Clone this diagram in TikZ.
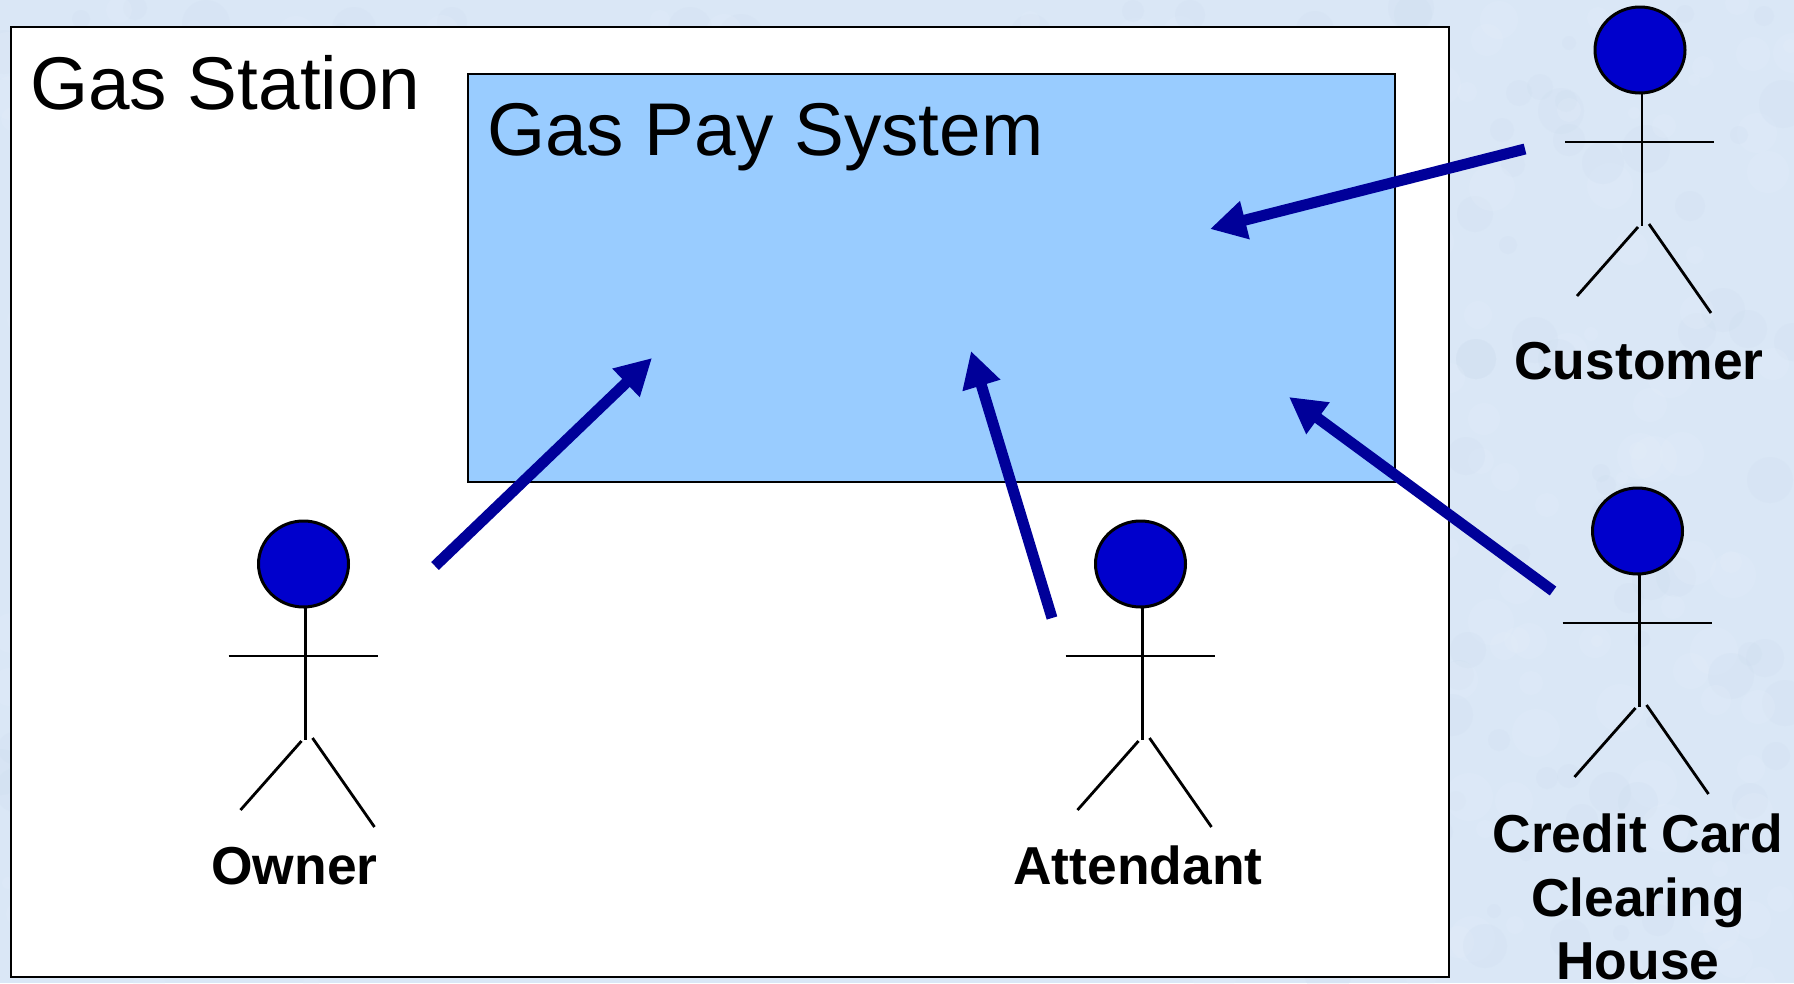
\documentclass[tikz,border=0pt]{standalone}
\usepackage{fontspec}
\setmainfont{Liberation Sans}
\usepackage{xcolor}
\usetikzlibrary{
  arrows.meta,
  shapes.geometric,
  positioning
}
\definecolor{gsBack}{HTML}{DAE7F6}
\definecolor{gsMottleA}{HTML}{E6F0FB}
\definecolor{gsMottleB}{HTML}{CCDCEE}
\definecolor{gsSystem}{HTML}{99CCFF}
\definecolor{gsHead}{HTML}{0000CC}
\definecolor{gsArrow}{HTML}{000099}
\tikzset{
  boxarea/.style={draw=black, line width=2.8pt},
  boxtitle/.style={anchor=base west, inner sep=0pt, font=\fontsize{74.7}{80}\selectfont},
  actorhead/.style={shape=ellipse, draw=black, line width=3pt, fill=gsHead, inner sep=0pt, minimum width=90pt, minimum height=86pt},
  actorline/.style={draw=black, line width=2.8pt},
  actorlabel/.style={inner sep=0pt, align=center, font=\fontsize{53.4}{63.5}\bfseries\selectfont},
  useflow/.style={draw=gsArrow, line width=11pt, -{Triangle[length=36pt, width=37pt]}}
}

\begin{document}
\begin{tikzpicture}[x=1pt, y=-1pt]
  \useasboundingbox (0,0) rectangle (1794,983);
  \fill[gsBack] (0,0) rectangle (1794,983);
  \pgfmathsetseed{7}
  \foreach \i in {1,...,700}{
    \pgfmathsetmacro{\bx}{random(0,1794)}
    \pgfmathsetmacro{\by}{random(0,983)}
    \pgfmathsetmacro{\br}{random(6,24)}
    \pgfmathsetmacro{\bc}{ifthenelse(random(0,1)==0,"gsMottleA","gsMottleB")}
    \fill[\bc, opacity=.2] (\bx,\by) circle[radius=\br];
  }

  % the two boxes
  \draw[boxarea, fill=white] (11,27) rectangle (1449,977);
  \draw[boxarea, fill=gsSystem] (468,74) rectangle (1395,482);
  \node[boxtitle] (stationTitle) at (30,109) {Gas Station};
  \node[boxtitle] (systemTitle) at (487,155) {Gas Pay System};

  % actors
  \foreach \x/\y/\id in {303.5/564/owner, 1140.5/564/attendant, 1640/50/customer, 1637.5/531/clearing}{
    \node[actorhead] (\id Head) at (\x,\y) {};
    \draw[actorline] (\x+2,\y+43) -- (\x+2,\y+176);
    \draw[actorline] (\x-75,\y+92) -- (\x+74,\y+92);
    \draw[actorline] (\x-2,\y+177) -- (\x-63,\y+246);
    \draw[actorline] (\x+9,\y+174) -- (\x+71,\y+263);
  }
  \node[actorlabel, anchor=base] (ownerLabel) at (294.5,884) {Owner};
  \node[actorlabel, anchor=base] (attendantLabel) at (1138,884) {Attendant};
  \node[actorlabel, anchor=base] (customerLabel) at (1639,379) {Customer};
  \node[actorlabel, anchor=north] (clearingLabel) at (1638,814) {Credit Card\\Clearing\\House};

  % use arrows
  \coordinate (ownerTail) at (435,566);
  \coordinate (ownerTip) at (652,358);
  \coordinate (attendantTail) at (1052,618);
  \coordinate (attendantTip) at (971,351);
  \coordinate (customerTail) at (1525,149);
  \coordinate (customerTip) at (1210,229);
  \coordinate (clearingTail) at (1553,591);
  \coordinate (clearingTip) at (1289,397);
  \foreach \id in {owner, attendant, customer, clearing}{
    \draw[useflow] (\id Tail) -- (\id Tip);
  }
\end{tikzpicture}
\end{document}
